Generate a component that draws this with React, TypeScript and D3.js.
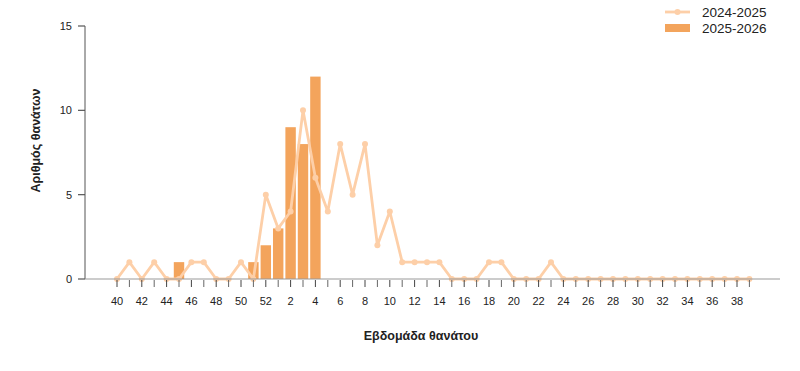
import React from "react";
import * as d3 from "d3";

const weeks: number[] = [40,41,42,43,44,45,46,47,48,49,50,51,52,1,2,3,4,5,6,7,8,9,10,11,12,13,14,15,16,17,18,19,20,21,22,23,24,25,26,27,28,29,30,31,32,33,34,35,36,37,38,39];
const season2425: number[] = [0,1,0,1,0,0,1,1,0,0,1,0,5,3,4,10,6,4,8,5,8,2,4,1,1,1,1,0,0,0,1,1,0,0,0,1,0,0,0,0,0,0,0,0,0,0,0,0,0,0,0,0];
const season2526: (number | null)[] = [null,null,null,null,null,1,null,null,null,null,null,1,2,3,9,8,12];
const yTicks: number[] = [0, 5, 10, 15];
const seriesNames: string[] = ["2024-2025", "2025-2026"];

const W = 800, H = 371;
const FONT = "'Liberation Sans', Arial, sans-serif";
const LINE_COLOR = "#fdcfa8";
const BAR_COLOR = "#f3a45c";

export default function App() {
  const x = d3.scaleLinear().domain([0, 50]).range([117, 737]);
  const y = d3.scaleLinear().domain([0, 15]).range([279, 26]);
  const step = x(1) - x(0);
  const bw = step * 0.84;
  const line = d3.line<number>().x((_, i) => x(i)).y(d => y(d));

  return (
    <svg width={W} height={H} style={{ position: "absolute", left: 0, top: 0, fontFamily: FONT }}>
      <rect width={W} height={H} fill="#fff" />
      {season2526.map((v, i) => v == null ? null : (
        <rect key={"b" + i} x={x(i) - bw / 2} y={y(v)} width={bw} height={y(0) - y(v)} fill={BAR_COLOR} />
      ))}
      <path d={line(season2425) || ""} fill="none" stroke={LINE_COLOR} strokeWidth={2.8} strokeLinejoin="round" />
      {season2425.map((v, i) => (
        <circle key={"p" + i} cx={x(i)} cy={y(v)} r={3} fill={LINE_COLOR} />
      ))}
      <line x1={85} x2={85} y1={y(15)} y2={y(0)} stroke="#555" strokeWidth={1} />
      {yTicks.map(t => (
        <g key={"yt" + t}>
          <line x1={78} x2={85} y1={y(t)} y2={y(t)} stroke="#555" strokeWidth={1.2} />
          <text x={72} y={y(t)} dy="0.35em" textAnchor="end" fontSize={11} fill="#222">{t}</text>
        </g>
      ))}
      <text transform={`translate(40,${(y(15) + y(0)) / 2 - 12}) rotate(-90)`} textAnchor="middle" fontSize={12.5} fontWeight={600} fill="#222">Αριθμός θανάτων</text>
      <line x1={85} x2={780} y1={y(0)} y2={y(0)} stroke="#999" strokeWidth={1} />
      {weeks.map((w, i) => (
        <g key={"xt" + i}>
          <line x1={x(i)} x2={x(i)} y1={y(0) + 1} y2={y(0) + 8} stroke={i % 2 === 0 ? "#444" : "#666"} strokeWidth={1} />
          {i % 2 === 0 ? (
            <text x={x(i)} y={305} textAnchor="middle" fontSize={11} fill="#222">{w}</text>
          ) : null}
        </g>
      ))}
      <text x={421} y={340} textAnchor="middle" fontSize={12.5} fontWeight={600} fill="#222">Εβδομάδα θανάτου</text>
      <line x1={665} x2={690} y1={12} y2={12} stroke={LINE_COLOR} strokeWidth={2.8} />
      <circle cx={677.5} cy={12} r={3} fill={LINE_COLOR} />
      <text x={702} y={12} dy="0.35em" fontSize={13.5} fill="#222">{seriesNames[0]}</text>
      <rect x={665} y={24} width={25} height={8} fill={BAR_COLOR} />
      <text x={702} y={28} dy="0.35em" fontSize={13.5} fill="#222">{seriesNames[1]}</text>
    </svg>
  );
}
